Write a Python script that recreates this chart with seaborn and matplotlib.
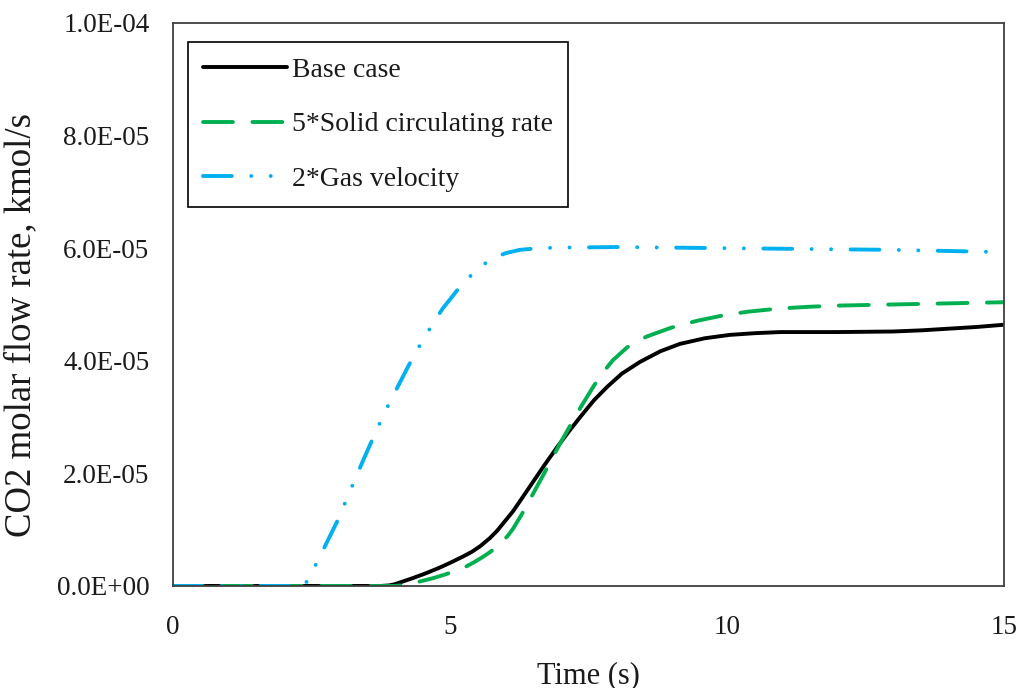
import numpy as np
import pandas as pd
import matplotlib
matplotlib.use("Agg")
import matplotlib.pyplot as plt
import seaborn as sns
from matplotlib.ticker import FormatStrFormatter

# ---- data (time in s, flow in 1e-6 kmol/s) ----
series_names = ["Base case", "5*Solid circulating rate", "2*Gas velocity"]

base_t = [0, 3.75, 3.9, 4.0, 4.15, 4.33, 4.55, 4.8, 5.0, 5.23, 5.4, 5.55, 5.72, 5.85,
          6.0, 6.14, 6.3, 6.5, 6.7, 6.93, 7.15, 7.35, 7.6, 7.83, 8.1, 8.43, 8.8,
          9.15, 9.6, 10.05, 10.5, 10.96, 11.5, 12, 12.5, 13, 13.5, 14, 14.5, 15]
base_v = [0, 0, 0.1, 0.3, 0.8, 1.4, 2.2, 3.2, 4.1, 5.2, 6.1, 7.1, 8.5, 9.8,
          11.6, 13.3, 15.6, 18.5, 21.4, 24.6, 27.5, 30.0, 33.0, 35.3, 37.7, 39.8, 41.7,
          43.0, 44.0, 44.6, 44.9, 45.1, 45.1, 45.1, 45.15, 45.2, 45.4, 45.7, 46.0, 46.4]

solid_t = [0, 4.0, 4.15, 4.33, 4.5, 4.7, 4.9, 5.13, 5.3, 5.45, 5.6, 5.72, 5.85, 5.95,
           6.05, 6.14, 6.3, 6.5, 6.7, 6.86, 7.02, 7.2, 7.35, 7.6, 7.8, 7.94, 8.2,
           8.55, 9.0, 9.46, 9.9, 10.36, 10.96, 11.5, 12, 13, 14, 15]
solid_v = [0, 0, 0.15, 0.5, 0.9, 1.4, 2.0, 2.8, 3.5, 4.3, 5.2, 6.0, 7.0, 7.9,
           9.0, 10.2, 12.8, 16.4, 20.0, 23.0, 25.9, 29.0, 31.6, 35.6, 38.4, 40.1, 42.4,
           44.3, 45.9, 47.1, 48.0, 48.7, 49.3, 49.6, 49.8, 50.0, 50.2, 50.4]

gas_t = [0, 2.35, 2.45, 2.51, 2.64, 2.8, 2.96, 3.16, 3.3, 3.45, 3.68, 3.85, 4.0, 4.24,
         4.4, 4.58, 4.75, 4.87, 5.0, 5.12, 5.3, 5.48, 5.65, 5.8, 6.0, 6.26, 6.6,
         7.0, 8.0, 9, 10, 11, 12, 13, 14, 15]
gas_v = [0, 0, 1.2, 2.5, 5.0, 8.2, 11.4, 16.0, 19.3, 22.7, 27.8, 31.4, 34.3, 38.9,
         41.8, 44.8, 47.5, 49.3, 50.9, 52.4, 54.4, 56.1, 57.4, 58.3, 59.1, 59.7, 60.0,
         60.1, 60.2, 60.1, 60.0, 59.9, 59.8, 59.7, 59.5, 59.3]

x_ticks = [0, 5, 10, 15]
y_ticks = [0, 2e-5, 4e-5, 6e-5, 8e-5, 1e-4]

frames = []
for name, t, v in [(series_names[0], base_t, base_v),
                   (series_names[1], solid_t, solid_v),
                   (series_names[2], gas_t, gas_v)]:
    frames.append(pd.DataFrame({"t": t, "v": np.array(v) * 1e-6, "series": name}))
df = pd.concat(frames, ignore_index=True)

sns.set_theme(style="white")
plt.rcParams["font.family"] = ["Liberation Serif", "DejaVu Serif"]

fig = plt.figure(figsize=(10.2, 6.88), dpi=100)
ax = fig.add_axes([0.1696, 0.1483, 0.8147, 0.8183])

palette = {series_names[0]: "#000000", series_names[1]: "#00B050", series_names[2]: "#00B0F0"}
dashes = {series_names[0]: "", series_names[1]: (7.7, 5.0),
          series_names[2]: (7.4, 5.0, 0.01, 5.0, 0.01, 5.0)}

sns.lineplot(data=df, x="t", y="v", hue="series", style="series",
             palette=palette, dashes=dashes, hue_order=series_names,
             style_order=series_names, estimator=None, sort=False,
             linewidth=2.8, legend=False, ax=ax,
             dash_capstyle="round", solid_capstyle="round",
             solid_joinstyle="round", dash_joinstyle="round")

ax.set_xlim(0, 15)
ax.set_ylim(0, 1e-4)
ax.set_xticks(x_ticks)
ax.set_yticks(y_ticks)
ax.yaxis.set_major_formatter(FormatStrFormatter("%.1E"))
ax.tick_params(axis="both", length=0, labelsize=19.5, colors="#1a1a1a")
ax.tick_params(axis="x", pad=21)
ax.tick_params(axis="y", pad=17)

for s in ax.spines.values():
    s.set_visible(True)
    s.set_color("#404040")
    s.set_linewidth(1.3)

ax.set_xlabel("Time (s)", fontsize=22, color="#1a1a1a", labelpad=15)
ax.set_ylabel("CO2 molar flow rate, kmol/s", fontsize=26.5, color="#1a1a1a")
ax.yaxis.set_label_coords(-0.162, 0.4636)

leg = ax.legend(ax.lines[:3], series_names, loc="upper left",
                bbox_to_anchor=(0.018, 0.966), borderaxespad=0,
                fontsize=20, frameon=True, fancybox=False, framealpha=1,
                edgecolor="#000000", handlelength=3.0, handletextpad=0.2,
                labelspacing=1.05, borderpad=0.55)
leg.get_frame().set_linewidth(1.2)
for txt in leg.get_texts():
    txt.set_color("#1a1a1a")

fig.savefig("out.png", dpi=100)
